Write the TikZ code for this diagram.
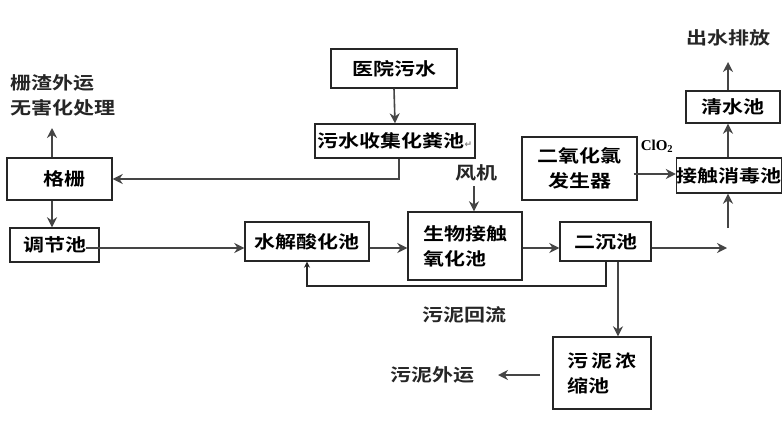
\documentclass[tikz,border=0pt]{standalone}
\usepackage{fontspec}
\setmainfont{Noto Sans CJK SC}[FakeStretch=1.2,BoldFont={Noto Sans CJK SC Bold},BoldFeatures={FakeStretch=1.2}]
\newfontfamily\latinserif{Liberation Serif}
\newfontfamily\symfont{DejaVu Sans}
\usetikzlibrary{arrows.meta}
\definecolor{linec}{HTML}{454545}
\definecolor{boxc}{HTML}{262626}
\tikzset{
  box/.style={draw=boxc,line width=1.4pt,inner sep=0pt,align=center,font=\fontsize{17.5}{25}\selectfont\bfseries,text=black},
  lbl/.style={inner sep=0pt,font=\fontsize{17.5}{25}\selectfont\bfseries,text=black!85},
  arr/.style={draw=linec,line width=1.6pt,-{Stealth[length=10pt,width=10pt]}},
  ret/.style={draw=boxc,line width=1.3pt,-{Stealth[length=6pt,width=6pt]}},
}
\begin{document}
\begin{tikzpicture}[x=1pt,y=-1pt]
\useasboundingbox[fill=white] (0,0) rectangle (783,431);
% boxes
\node[box,minimum width=126,minimum height=39] (yy) at (394,68.5) {医院污水};
\node[box,minimum width=160,minimum height=34] (hfc) at (395,141) {污水收集化粪池{\symfont\color{gray}\fontsize{9}{9}\selectfont ↵}};
\node[box,minimum width=105,minimum height=42] (gs) at (59.5,179) {\hspace{10pt}格栅};
\node[box,minimum width=89,minimum height=34] (tj) at (54.5,245) {调节池};
\node[box,minimum width=124,minimum height=39] (sj) at (307,241.5) {水解酸化池};
\node[box,minimum width=114,minimum height=68,align=left] (sw) at (465,246) {生物接触\\氧化池};
\node[box,minimum width=91,minimum height=39] (ec) at (605.5,241.5) {二沉池};
\node[box,minimum width=104,minimum height=35] (jc) at (729,175.5) {接触消毒池};
\node[box,minimum width=94,minimum height=32] (qs) at (733,107) {清水池};
\node[box,minimum width=115,minimum height=63] (eyh) at (579.5,168.5) {二氧化氯\\发生器};
\node[box,minimum width=98,minimum height=72,align=left] (wn) at (602,373) {污\,泥\,浓\\缩池};
% labels
\node[lbl,anchor=west] (l1) at (10,83) {栅渣外运};
\node[lbl,anchor=west] (l2) at (10,108) {无害化处理};
\node[lbl] (out) at (728,38) {出水排放};
\node[lbl] (fj) at (476,173) {风机};
\node[inner sep=0pt,font=\latinserif\bfseries\fontsize{15}{15}\selectfont] (clo) at (657,146) {ClO\textsubscript{2}};
\node[lbl] (hl) at (464,315) {污泥回流};
\node[lbl] (wy) at (432,375) {污泥外运};
% coordinates
\coordinate (gsup) at (52,128);
\coordinate (row) at (0,248);
\coordinate (ecout) at (727,248);
\coordinate (jcin) at (728,228);
\coordinate (outtop) at (728,62);
\coordinate (fjs) at (474,186);
\coordinate (r1) at (606,286);
\coordinate (r2) at (307,286);
\coordinate (wnout) at (540,375);
\coordinate (wyin) at (498,375);
% connectors
\draw[arr] (yy.south) -- (hfc.north);
\draw[arr] ([xshift=4pt]hfc.south) |- (gs.east);
\draw[arr] (gs.north -| gsup) -- (gsup);
\draw[arr] (gs.south -| gsup) -- (tj.north -| gsup);
\draw[arr] ([xshift=-14pt]tj.east |- row) -- (sj.west |- row);
\draw[arr] (sj.east |- row) -- (sw.west |- row);
\draw[arr] (sw.east |- row) -- (ec.west |- row);
\draw[arr] (ec.east |- row) -- (ecout);
\draw[arr] (jcin) -- (jc.south -| jcin);
\draw[arr] (jc.north -| jcin) -- (qs.south -| jcin);
\draw[arr] (qs.north -| jcin) -- (outtop);
\draw[arr] (fjs) -- (sw.north -| fjs);
\draw[arr] ([xshift=-4pt]eyh.east |- 0,174) -- (jc.west |- 0,174);
\draw[ret] (ec.south -| r1) -- (r1) -- (r2) -- (sj.south -| r2);
\draw[arr] (ec.south -| 618,0) -- (wn.north -| 618,0);
\draw[arr] (wnout) -- (wyin);
\end{tikzpicture}
\end{document}
